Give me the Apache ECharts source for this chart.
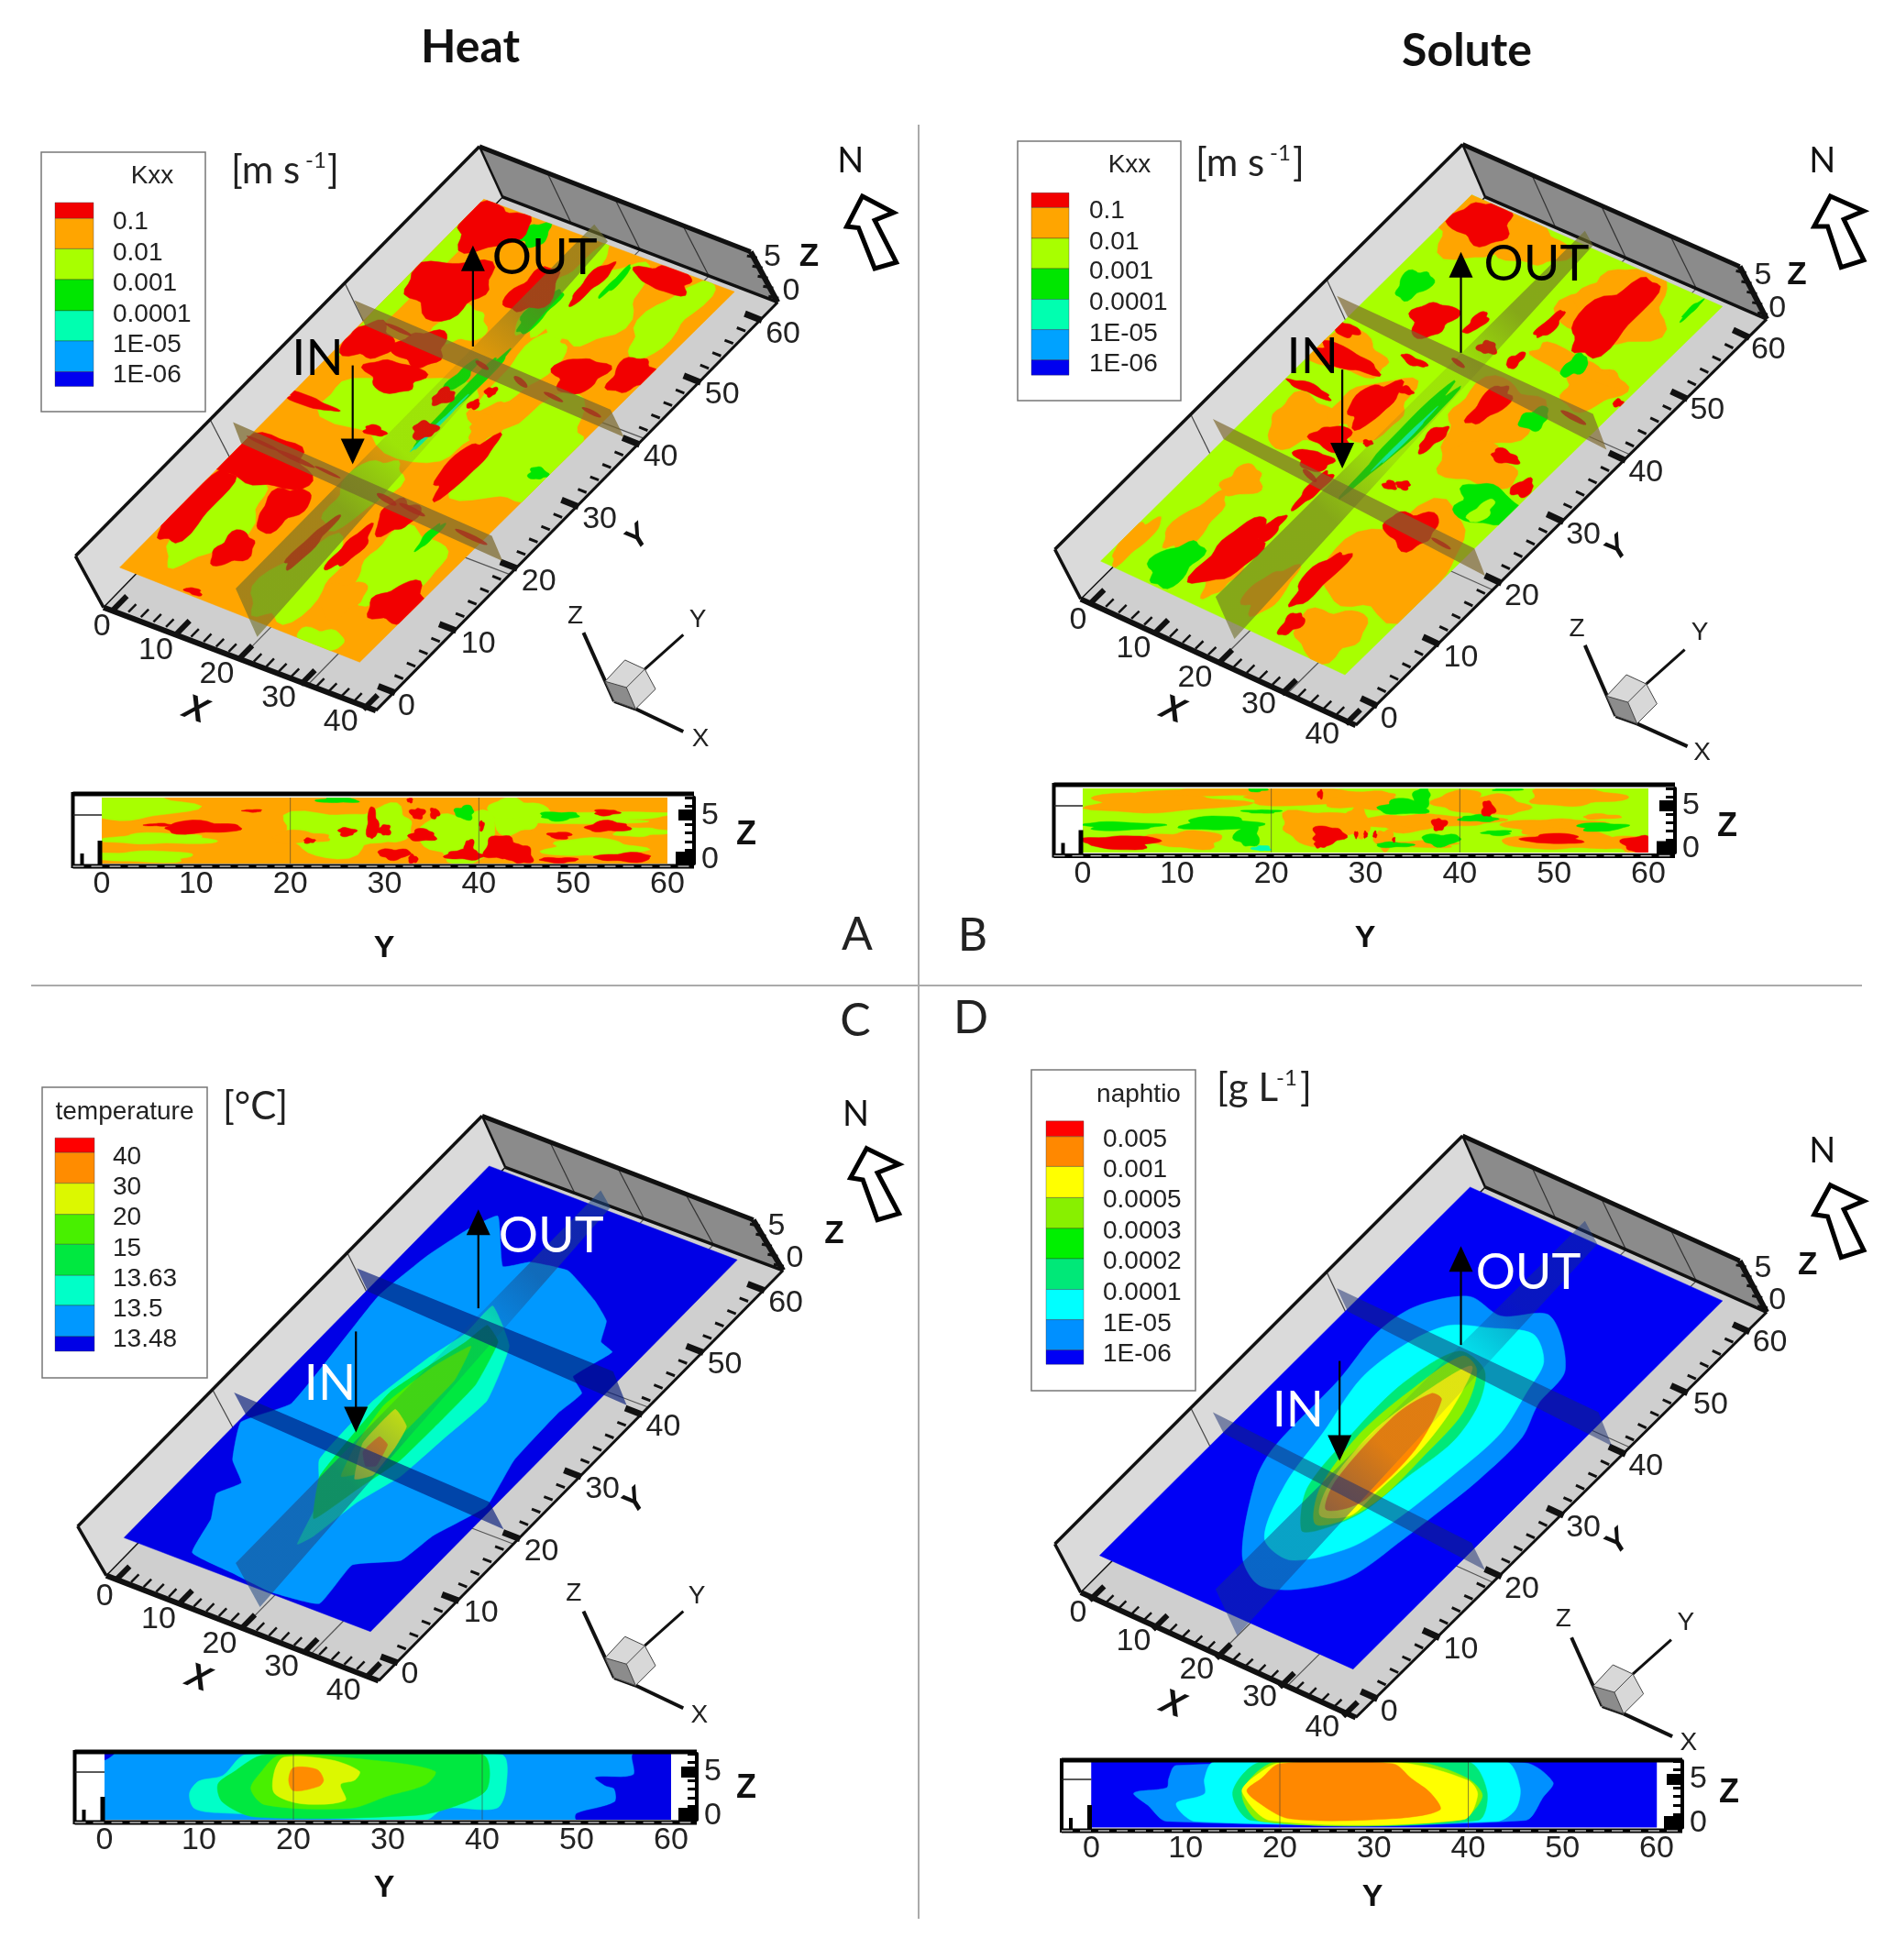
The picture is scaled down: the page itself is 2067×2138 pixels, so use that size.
<!DOCTYPE html>
<html><head><meta charset="utf-8"><title>Heat and solute tracer plumes</title>
<style>html,body{margin:0;padding:0;background:#fff}#c{width:2067px;height:2138px}</style>
<script src="https://cdn.jsdelivr.net/npm/echarts@6/dist/echarts.min.js"></script></head>
<body><div id="c"></div>
<script>
// ---------- DATA: levels, tick labels ----------
const kxxLabels=['0.1','0.01','0.001','0.0001','1E-05','1E-06'];
const kxxColors=['#f20000','#ffa500','#a8ff00','#00e600','#00ffb0','#00a2ff','#0000f0'];
const tempLabels=['40','30','20','15','13.63','13.5','13.48'];
const tempColors=['#ff0000','#ff8c00','#dcf800','#48f000','#00e840','#00ffc8','#0098ff','#0000e6'];
const naphLabels=['0.005','0.001','0.0005','0.0003','0.0002','0.0001','1E-05','1E-06'];
const naphColors=['#ff0000','#ff8800','#ffff00','#88f000','#00f000','#00e878','#00ffff','#0090ff','#0000f5'];
const xTickLabels=['0','10','20','30','40'];
const yTickLabels=['0','10','20','30','40','50','60'];
const zTickLabels=['0','5'];
const stripYTicks=[0,10,20,30,40,50,60];
const stripGuides=[20,40];

// Plate regions. Blob rows: [level, X, Y, radiusX, radiusY]; contour rows: [level, [[X,Y],...]]
const plateA=[[1,[[0,0],[40,0],[40,60],[0,60]]],
[2,6.5,10,3.5,8],[2,23,6.5,4,7],[2,32.7,.6,3,2],[2,33,13,4.5,6],[2,35,31.7,6,9],[2,16,31,10,6],[2,1,48,2,12],[2,24.8,42,2.5,7],[2,26.2,52.3,4,7],[2,35.5,53.8,2.5,7],[2,20,20,3,6],[2,12,44,3,3],[2,20,52,2,8],
[1,30.2,6.5,2.5,3],[1,27,33,2,2],[1,8,36,3,2],
[3,10,58,1.5,2],[3,33.2,17.9,.5,2.5],[3,38.5,30,1,1],[3,18,38,.7,3],[3,19.5,49,1,4],[3,20.5,36,.6,9],[3,25,56,.4,3],[4,21,31,.25,5],
[0,6,48,4,5],[0,4,57,3.5,4],[0,3,38,2.5,3],[0,10,39.5,2.5,3],[0,10,35,3,2.5],[0,2.9,28.2,3,.8],[0,5,19,5,4],[0,1.5,10.5,2.2,6.5],[0,12.4,14.4,2,4],[0,11.4,7.4,1.8,3],[0,37.5,8.5,2.5,3.5],[0,28.8,27.5,1.5,5.5],[0,27,18.6,1.8,3],[0,25.3,12.8,1,4],[0,19.9,11.4,.7,5],[0,31.6,43.4,2.5,3],[0,37.8,45.7,2,3],[0,16.5,51.3,2,4],[0,30.4,58.5,3,2],[0,22.3,54.9,.8,4],[0,18.3,34.8,1,1.5],[0,22.8,35.2,.6,.8],[0,23.3,37.5,.6,.8],[0,20,30,1.2,1.5],[0,14.2,27.7,1.2,.8],[0,11.7,.6,1,.5]];
const plateB=[[2,[[0,0],[40,0],[40,60],[0,60]]],
[1,6.8,16.2,2.2,2.5],[1,6.1,9,2,5],[1,1.4,4.1,1.4,4],[1,6.7,25.9,4,4],[1,4,36,5,3],[1,13,31,4,5],[1,4,57,6,5],[1,12,57.4,4.5,3],[1,28.7,54.7,6,6],[1,26,55,2.5,5],[1,34.7,44.4,3.5,3.5],[1,30,46,6,1.5],[1,33,15,7,9],[1,33.5,3.8,4,4],[1,27,36,5,6],[1,31,30,5,3],[1,22,5.4,2,4],[1,15.3,4.3,1.5,3],
[3,36.6,26,3.5,3],[2,36.6,25,1,2],[3,8.5,3.5,2,4],[3,3.6,47,1.5,2.5],[3,30.5,46,1,2],[3,32,38,1.2,2],[3,37,58,.3,2],[3,19.5,30,.9,10],[4,20,29,.3,5],
[0,4.3,57.5,3,3.5],[0,9.5,44,2,3],[0,14.8,45.9,.7,2],[0,23.1,49.3,.7,2.5],[0,29,53.2,2.5,7],[0,1.1,38.5,1.5,1],[0,4.4,35.2,3.5,1.5],[0,3.8,30,2.5,.7],[0,12.4,31.6,1.8,4],[0,12.2,38.4,1.5,.6],[0,14.6,34.7,.8,.6],[0,11.9,25.6,2,2],[0,12.2,22.2,2,1.5],[0,25.5,37.4,1.3,3.5],[0,18.8,43.6,1,1],[0,23.3,43.6,.6,1.5],[0,23,30.7,.8,2.5],[0,33,32.3,1.5,1],[0,38.5,29.7,1,1.5],[0,30.8,19.5,2.5,3],[0,15.5,19,.7,3.5],[0,13.7,7.7,2,6],[0,15.2,12.2,.8,2.5],[0,26.1,9.4,1.2,5],[0,28.3,2.9,.9,2],[0,23.5,23.3,.7,.7],[0,25,24,.7,.7],[0,16.3,26.9,.5,.5],[0,39.5,44,.6,.6]];
const plateC=[[7,[[0,0],[40,0],[40,60],[0,60]]],
[6,[[9.8,1.3],[8.1,6.1],[5.8,9.3],[7.5,11.7],[3.8,14],[.4,18.8],[4.2,23.3],[2,39.8],[3.1,46.7],[4.7,51.3],[6.8,54.5],[13.2,48.8],[15.9,50.5],[21.4,51.2],[27.9,48.9],[31.7,47],[33.5,44.3],[36,43.6],[34.2,39],[37.2,37.4],[36.7,34],[37,26.5],[39.1,19.9],[36.2,14],[35.3,9.7],[30.1,7],[30.7,1],[23.6,.2],[17,.7]]],
[5,[[21.2,7],[18.5,13.4],[14,17.9],[13.5,27.2],[15,34.6],[16.6,39.3],[16.6,43.7],[23.2,39.7],[26.9,32.3],[26.2,25.9],[25.5,19.6],[23.4,14.6],[22.2,8.7]]],
[4,[[20.2,10.7],[16,15.9],[15.2,21],[14.5,29],[17.6,38.3],[18.2,41.2],[21.4,39.7],[23.7,33.7],[23.8,28.4],[23.6,21.5],[21.9,16.1]]],
[3,[[18.5,16.9],[16.5,21.5],[15.3,27.2],[16.6,33.8],[18.7,38],[20.7,33.3],[20.8,27.9],[20.8,22.5],[20.6,18.4]]],
[2,[[20.4,17.2],[17.2,21.8],[17.1,27.2],[20.4,25.7],[21.5,22.7],[22.1,18.5]]],
[1,[[18.2,20.8],[18.4,23.3],[20.3,22.7],[21.4,19.7],[20.2,19.2]]]];
const plateD=[[8,[[0,0],[40,0],[40,60],[0,60]]],
[7,[[15.5,7.2],[8.7,16.4],[7.1,21.1],[6.8,31.9],[5.8,39],[7.1,43.8],[11.9,47.7],[17.5,47.1],[22.8,49.6],[30.4,44.3],[31.2,39.1],[33.1,34.5],[33,27.6],[32.1,21.7],[31.3,17.2],[29.6,10.2],[25.1,6.1],[20.5,4.7]]],
[6,[[16.1,10.2],[12.4,17.4],[10.9,25],[9.1,33],[10.1,38.9],[12.7,43.3],[17.6,45.2],[23,46.7],[27.2,44.1],[28.6,40],[30.3,33.9],[29.7,26.8],[28.3,18.6],[26.4,13.5],[21.3,9.1]]],
[5,[[19.2,13],[15.2,18.1],[14.1,27.1],[14.2,34.7],[16.7,41],[21.6,40.2],[24.7,36.1],[26,30.6],[24.8,23.8],[23.8,17.9],[21,13.8]]],
[3,[[20,14.4],[16.6,18.7],[15,26.9],[15.9,34.8],[17.7,40.7],[20.8,39.8],[23.9,34.4],[24.4,27.7],[24.4,20.9],[22.8,16.4]]],
[2,[[19.6,15.6],[17.3,19.3],[16.2,27.4],[17.4,34.2],[19.8,40],[22.3,34.3],[23.4,28],[23.2,20.3],[22.9,17.1]]],
[1,[[19.5,16.6],[17.5,20.4],[16.8,30.4],[18.4,34.9],[20.2,34.7],[22.8,27.7],[22.8,19.8],[21.6,17.6]]]];

// Strip regions (Y, Z)
const stripA=[[1,[[0,-.5],[60,-.5],[60,7],[0,7]]],
[2,3,6,6,1.5],[2,6,2.3,6,.6],[2,4,.3,6,.6],[2,25,3,6,2.5],[1,21,2.5,3,.7],[2,30,4,3,2],[2,38,2.5,4,3],[2,44,5,3,2],[2,52,1.3,5,1],[2,50,4.5,8,.5],[2,55,5,6,.4],[2,57,3.1,3,.5],
[3,25,6.7,2.2,.3],[3,38.5,5.3,1,.8],[3,48.5,4.9,2,.5],
[0,10.5,3.6,4,.7],[0,6,3.9,1.5,.15],[0,16,5.5,1,.15],[0,26,3.1,.9,.5],[0,28.7,4,.6,1.8],[0,30,3.3,.7,.6],[0,33.5,5.2,.8,.6],[0,35.3,5.2,.5,.6],[0,34,2.7,1.4,.7],[0,32.7,6.7,.3,.3],[0,31,.6,1.7,.6],[0,33,0,.5,.5],[0,38.5,.5,2,.6],[0,39,1.3,.5,1],[0,40.3,3.8,.25,.6],[0,42.5,1.3,2,1.3],[0,44.3,.5,1.5,1],[0,48.6,2.7,1.2,.4],[0,53.5,5.3,1.3,.35],[0,53.7,3.7,2.3,.6],[0,55.5,.2,3,.5],[0,48.5,-.1,2,.3],[0,22,2.1,.6,.3]];
const stripB=[[2,[[0,-.5],[60,-.5],[60,7],[0,7]]],
[1,8,5.3,8,1.1],[1,15,6.6,8,.5],[1,11,1,4,1],[1,25,2.5,4,2],[1,25,6,8,1],[1,30,5.5,4,1],[1,34,3,4,1],[1,38,3.2,6,.7],[1,44,5,3,1.2],[1,40,5.5,2.5,1.3],[1,50,2.5,5,1],[1,52,6,5,1],[1,51,1,6,1.2],[1,36,.5,4,.4],[1,59,.5,3,1],[1,55,3.7,2,.3],[1,29,3,1.5,1.8],[1,32,1,1,1.2],
[3,4,2.6,4,.5],[3,14.5,2.9,4,.8],[3,17.5,1.5,1.3,1.3],[3,19,4.3,2,.2],[3,18.5,6.9,1,.3],[3,34,4.8,2.5,.9],[3,36,6,.9,1.2],[3,38,1,2,.7],[3,33,.4,2,.3],[3,42,3.5,2,.4],[3,44,1.8,1.5,.3],[3,55,2.5,2.5,.5],[3,45,6.9,1.5,.2],[4,19,0,1,.3],
[0,4,.7,4,.8],[0,26,1.5,1.7,1.1],[0,25.2,.6,.6,.6],[0,25.2,6.3,.3,.5],[0,29,1.6,.2,.4],[0,30,1.6,.2,.4],[0,31,1.6,.2,.4],[0,33,1,.15,.3],[0,37.8,2.8,.8,.7],[0,43,4.6,.7,.9],[0,50,1.1,3,.6],[0,59,.5,1.7,1]];
const stripC=[[6,[[0,-.5],[60,-.5],[60,7],[0,7]]],
[7,[[56,7],[56,4.6],[52,4.3],[53,3.4],[54,3],[54,1.5],[50,.2],[50,-.5],[60,-.5],[60,7]]],[7,[[0,7],[1,7],[0,6.3]]],
[5,[[15,6.9],[42,6.9],[42.5,3],[41.5,.8],[36,.8],[34,-.5],[12,0.3],[9.5,.8],[9,2.5],[10,3.9],[12.5,4.5]]],
[4,[[17,6.9],[40,6.9],[40.5,3],[37,1],[33,0],[16,-.2],[12.5,1.5],[12,3.5],[13.5,4.8]]],
[3,[[18.5,6.8],[29,6.2],[35,5],[34,3.5],[30,2.2],[26,.8],[17,1.2],[15.5,3],[16.5,4.8]]],
[2,[[19,6.6],[24,6.3],[27,5],[26.5,4],[25,3.5],[25.5,1.7],[21,1.3],[18,2.5],[18,5]]],
[1,[[20,5.4],[22.5,5.2],[23.2,4],[22.7,3.3],[20,2.8],[19.5,4]]]];
const stripD=[[8,[[0,-.5],[60,-.5],[60,7],[0,7]]],
[7,[[9,6.5],[46,6.8],[49,4.6],[48,3],[46,.3],[8,.2],[6,2],[4.5,3.4],[8,4],[8.2,5]]],
[6,[[13,6.9],[44,6.9],[45.5,4],[45,1.5],[43,.2],[11,.2],[9,2.2],[12,3.3],[12,5]]],
[5,[[18,6.9],[40,6.9],[42,3.5],[41,.3],[17,.3],[15,3.5]]],
[3,[[19.5,6.9],[35,6.8],[40,5],[41.5,3],[39,.3],[18,.2],[16,3.5]]],
[2,[[20,6.8],[33,6.8],[40,4.8],[41,3.2],[39.5,.4],[19,.3],[16,3.5],[17,5]]],
[1,[[20,6.7],[32,6.7],[34,5],[36,3.4],[37,1.5],[32,.5],[21,.5],[17.5,2.5],[16.5,3.7],[18,5]]]];
// Cross-section spots [wall, s(0-40), t(0-1), rs, rt]
const wallSpotsA=[[0,4,.55,2.5,.12],[0,9,.5,3,.15],[0,14,.55,2,.1],[0,23,.5,1.5,.2],[0,27,.55,2,.15],[0,36,.5,2.5,.15],[1,6,.5,2,.12],[1,19,.5,1,.15],[1,25,.5,1,.2],[1,30,.45,1.5,.12],[1,36,.5,1.5,.12]];
const wallSpotsB=[[0,14,.5,1,.25],[0,34,.45,1.5,.12],[1,18,.5,1,.15],[1,36,.55,2,.12]];

// ---------- LAYOUT ----------
const SX=1.70,SY=2.178;
const panels=[
{ox:60,oy:130,title:'Kxx',plate:plateA,stripRows:stripA,colors:kxxColors,labels:kxxLabels,spots:wallSpotsA,smooth:0,
 Tb:[787,65],LT:[38,1038],LF:[90,1160],FF:[595,1405],RF:[1340,435],RT:[1290,315],BF:[830,185],
 L:[120,1065],B:[565,1290],T:[795,190],R:[1260,410],tx0:[120,1150],tx40:[585,1385],ty0:[615,1355],ty60:[1295,470],
 xl:[[87,1205],[187,1262],[300,1320],[415,1375],[530,1432]],yl:[[652,1395],[785,1248],[897,1100],[1010,950],[1123,803],[1237,655],[1350,510]],zl:[[1365,408],[1330,328]],
 xt:[260,1405],yt:[1080,995],zt:[1398,328],
 w:[[[330,720],[345,770],[830,1050],[810,990]],[[555,430],[575,490],[1055,755],[1030,690]],[[335,1115],[375,1230],[1025,290],[1000,250]]],
 wc:'rgba(125,105,45,.72)',lc:[110,110,40,.62],ink:'#000',inT:[487,570],inA:[[552,585],[552,820]],outT:[908,330],outA:[[775,540],[775,300]],
 tZ:[980,1220],tY:[1165,1225],tX:[1165,1455],c:[1070,1335],lZ:[965,1180],lY:[1192,1190],lX:[1197,1472],
 n:[1475,100],na:[[1497,183],[1555,222],[1520,240],[1560,340],[1520,355],[1490,258],[1468,255]],
 lg:{x:45,y:166,w:179,h:283,sx:60,sw:42,b:[198,236,308,381,455,527,600,635],ly:[245,318,390,465,537,608],tx:166,ty:192,lx:123,ox:60,oy:130},
 strip:{left:79.5,right:757,top:866,bottom:945,x0:111,x60:728,pt:870,pb:942,yT:[419,1035],zT:[814,911]},strip5:889},
{ox:1120,oy:130,title:'Kxx',plate:plateB,stripRows:stripB,colors:kxxColors,labels:kxxLabels,spots:wallSpotsB,smooth:0,
 Tb:[808,60],LT:[52,1022],LF:[100,1140],FF:[610,1440],RF:[1372,475],RT:[1322,350],BF:[850,185],
 L:[137,1050],B:[590,1320],T:[825,180],R:[1290,445],tx0:[130,1135],tx40:[605,1420],ty0:[635,1385],ty60:[1325,510],
 xl:[[95,1190],[198,1258],[312,1328],[430,1392],[548,1462]],yl:[[672,1425],[805,1280],[918,1135],[1032,988],[1148,840],[1262,692],[1375,548]],zl:[[1392,450],[1365,372]],
 xt:[270,1405],yt:[1095,1022],zt:[1428,372],
 w:[[[345,712],[365,760],[850,1085],[830,1020]],[[575,420],[595,470],[1075,785],[1050,700]],[[350,1135],[385,1235],[1050,300],[1035,265]]],
 wc:'rgba(125,105,45,.68)',lc:[110,110,40,.6],ink:'#000',inT:[530,565],inA:[[585,595],[585,830]],outT:[945,345],outA:[[805,555],[805,315]],
 tZ:[1035,1250],tY:[1220,1260],tX:[1225,1490],c:[1125,1370],lZ:[1020,1212],lY:[1248,1220],lX:[1252,1505],
 n:[1475,100],na:[[1490,183],[1552,218],[1515,238],[1552,335],[1510,352],[1485,255],[1460,255]],
 lg:{x:1110,y:154,w:178,h:283,sx:1125,sw:41,b:[175,210,283,355,428,500,572,608],ly:[218,292,363,437,510,582],tx:1232,ty:180,lx:1188,ox:1120,oy:130},
 strip:{left:1149.5,right:1827,top:856,bottom:933.5,x0:1181,x60:1798,pt:860,pb:930,yT:[1489,1024],zT:[1884,902]},strip5:879},
{ox:60,oy:1170,title:'temperature',plate:plateC,stripRows:stripC,colors:tempColors,labels:tempLabels,spots:[],smooth:.12,
 Tb:[792,103],LT:[42,1078],LF:[95,1195],FF:[600,1445],RF:[1350,470],RT:[1295,350],BF:[835,225],
 L:[128,1105],B:[585,1328],T:[805,222],R:[1265,445],tx0:[125,1190],tx40:[590,1420],ty0:[620,1395],ty60:[1300,510],
 xl:[[92,1245],[192,1300],[305,1358],[420,1412],[535,1470]],yl:[[658,1430],[790,1285],[902,1138],[1015,990],[1128,842],[1242,695],[1355,548]],zl:[[1372,442],[1338,365]],
 xt:[265,1440],yt:[1075,1020],zt:[1445,385],
 w:[[[332,760],[355,815],[832,1085],[805,1020]],[[560,465],[580,520],[1060,790],[1035,710]],[[335,1165],[380,1270],[1030,320],[1012,280]]],
 wc:'rgba(0,22,120,.64)',lc:[30,70,130,.55],ink:'#fff',inT:[510,740],inA:[[558,615],[558,855]],outT:[920,390],outA:[[785,560],[785,325]],
 tZ:[980,1280],tY:[1165,1280],tX:[1165,1510],c:[1070,1390],lZ:[962,1237],lY:[1190,1245],lX:[1195,1528],
 n:[1485,100],na:[[1505,180],[1565,218],[1525,238],[1565,335],[1525,350],[1498,255],[1475,250]],
 lg:{x:46,y:1186,w:180,h:317,sx:60,sw:43,b:[155,190,263,337,408,482,553,627,662],ly:[200,272,345,418,490,563,635],tx:136,ty:1213,lx:123,ox:60,oy:1170},
 strip:{left:81.5,right:760,top:1911,bottom:1988,x0:114,x60:732,pt:1913,pb:1985,yT:[419,2060],zT:[814,1951]},strip5:1933},
{ox:1120,oy:1210,title:'naphtio',plate:plateD,stripRows:stripD,colors:naphColors,labels:naphLabels,spots:[],smooth:.3,
 Tb:[808,63],LT:[52,1033],LF:[100,1148],FF:[610,1445],RF:[1372,482],RT:[1322,360],BF:[850,185],
 L:[135,1060],B:[605,1330],T:[822,185],R:[1290,455],tx0:[130,1150],tx40:[600,1425],ty0:[635,1392],ty60:[1325,520],
 xl:[[95,1197],[198,1265],[315,1333],[432,1398],[548,1470]],yl:[[672,1432],[805,1285],[918,1140],[1032,995],[1148,848],[1268,703],[1378,555]],zl:[[1392,455],[1365,378]],
 xt:[270,1415],yt:[1095,1030],zt:[1448,370],
 w:[[[345,720],[365,770],[850,1095],[825,1030]],[[575,425],[595,480],[1085,800],[1060,720]],[[350,1140],[390,1250],[1058,320],[1035,265]]],
 wc:'rgba(20,40,110,.5)',lc:[20,50,130,.45],ink:'#fff',inT:[503,715],inA:[[580,598],[580,835]],outT:[930,390],outA:[[805,560],[805,325]],
 tZ:[1010,1255],tY:[1195,1260],tX:[1197,1490],c:[1100,1370],lZ:[995,1212],lY:[1222,1220],lX:[1227,1505],
 n:[1475,100],na:[[1490,180],[1552,218],[1515,238],[1552,335],[1510,352],[1485,255],[1460,250]],
 lg:{x:1125,y:1167,w:179,h:350,sx:1141,sw:41,b:[28,65,136,210,283,355,428,500,572,606],ly:[72,145,217,290,362,437,510,582],tx:1242,ty:1194,lx:1203,ox:1120,oy:1210},
 strip:{left:1158,right:1835,top:1920,bottom:1997,x0:1190.5,x60:1807,pt:1921,pb:1993.5,yT:[1497,2070],zT:[1886,1956]},strip5:1941}
];
const TICK='"Liberation Sans",Arial,sans-serif', CAL='Lato,"Open Sans",sans-serif';
const AXF=34;
const G=[];
const txt=(x,y,t,font,fill,extra)=>G.push(Object.assign({type:'text',x,y,z:20,style:{text:t,font,fill:fill||'#222',textAlign:'center',textVerticalAlign:'middle',verticalAlign:'middle'}},extra||{}));
const poly=(pts,fill,stroke,lw,z)=>G.push({type:'polygon',z:z||1,shape:{points:pts},style:{fill:fill||'none',stroke:stroke||null,lineWidth:lw||0}});
const line=(a,b,c,w,z,dash)=>G.push({type:'line',z:z||1,shape:{x1:a[0],y1:a[1],x2:b[0],y2:b[1]},style:{stroke:c,lineWidth:w,lineDash:dash||null}});
const lerp=(a,b,f)=>[a[0]+(b[0]-a[0])*f,a[1]+(b[1]-a[1])*f];
const unit=(a,b)=>{const d=[b[0]-a[0],b[1]-a[1]],n=Math.hypot(d[0],d[1]);return [d[0]/n,d[1]/n];};

panels.forEach(p=>{
 const Z=q=>[p.ox+q[0]/SX,p.oy+q[1]/SY];
 const [Tb,LT,LF,FF,RF,RT,BF]=[p.Tb,p.LT,p.LF,p.FF,p.RF,p.RT,p.BF].map(Z);
 // box
 poly([LF,LT,Tb,BF],'#dadada');
 poly([BF,Tb,RT,RF],'#8b8b8b');
 poly([LF,BF,RF,FF],'#cfcfcf');
 [1/3,2/3].forEach(f=>{line(lerp(LF,BF,f),lerp(LT,Tb,f),'#444',1.2,2);line(lerp(LF,BF,f),lerp(FF,RF,f),'#555',1.2,2);});
 [.25,.5,.75].forEach(f=>line(lerp(BF,RF,f),lerp(Tb,RT,f),'#333',1.2,2));
 [.5,.75].forEach(f=>line(lerp(LF,FF,f),lerp(BF,RF,f),'#555',1.2,2));
 [[LF,LT,3.5],[LT,Tb,3.5],[Tb,RT,5],[RT,RF,6],[LF,FF,6],[FF,RF,3],[Tb,BF,2.5],[BF,RF,3.5],[LF,BF,1.5]].forEach(e=>line(e[0],e[1],'#111',e[2],3));
 // ticks
 const tx0=Z(p.tx0),tx40=Z(p.tx40),ty0=Z(p.ty0),ty60=Z(p.ty60);
 const dx=unit(ty0,ty60), dy=unit(tx40,tx0);
 for(let v=0;v<=40;v+=2){const m=v%10===0,b=lerp(tx0,tx40,v/40),a=m?11:6;line([b[0]-dx[0]*a,b[1]-dx[1]*a],[b[0]+dx[0]*a,b[1]+dx[1]*a],'#111',m?6:2.5,3);}
 for(let v=0;v<=60;v+=2){const m=v%10===0,b=lerp(ty0,ty60,v/60),a=m?10:5;line([b[0]-dy[0]*a,b[1]-dy[1]*a],[b[0]+dy[0]*a,b[1]+dy[1]*a],'#111',m?7:3,3);}
 for(let f=.1;f<1;f+=.2){const b=lerp(RF,RT,f);line([b[0]-7,b[1]-1],[b[0]+4,b[1]+1],'#111',3,3);}
 // tick labels
 p.xl.forEach((q,i)=>{const c=Z(q);txt(c[0],c[1],xTickLabels[i],AXF+'px '+TICK);});
 p.yl.forEach((q,i)=>{const c=Z(q);txt(c[0],c[1],yTickLabels[i],AXF+'px '+TICK);});
 p.zl.forEach((q,i)=>{const c=Z(q);txt(c[0],c[1],zTickLabels[i],AXF+'px '+TICK);});
 let c=Z(p.xt);txt(c[0],c[1],'X','italic bold 38px '+TICK,'#111',{rotation:-.35});
 c=Z(p.yt);txt(c[0],c[1],'Y','italic bold 34px '+TICK,'#111',{rotation:.75});
 c=Z(p.zt);txt(c[0],c[1],'Z','bold 35px '+TICK,'#111');
 // cross sections
 p.w.forEach((q,i)=>{
  const P=q.map(Z);
  if(i===2){
   const [r,gg,b,a]=p.lc,col=x=>`rgba(${r},${gg},${b},${x})`;
   poly(P,{type:'linear',x:0,y:1,x2:1,y2:0,colorStops:[{offset:0,color:col(a)},{offset:.3,color:col(a)},{offset:.45,color:col(a*.3)},{offset:.66,color:col(a*.3)},{offset:.8,color:col(a)},{offset:1,color:col(a)}]},null,0,6);
  } else poly(P,p.wc,null,0,6);
  p.spots.filter(s=>s[0]===i).forEach(s=>{
   const pts=[];for(let a=0;a<16;a++){const th=a/16*2*Math.PI,u=(s[1]+s[3]*Math.cos(th))/40,t=s[2]+s[4]*Math.sin(th);
    const top=lerp(P[0],P[3],u),bot=lerp(P[1],P[2],u);pts.push(lerp(bot,top,t));}
   poly(pts,'rgba(165,45,30,.8)',null,0,7);});
 });
 // IN / OUT
 const head=(a,b)=>{const A=Z(a),B=Z(b),d=unit(A,B),n=[-d[1],d[0]];line(A,[B[0]-d[0]*10,B[1]-d[1]*10],'#000',2.2,15);
  poly([B,[B[0]-d[0]*28+n[0]*13,B[1]-d[1]*28+n[1]*13],[B[0]-d[0]*28-n[0]*13,B[1]-d[1]*28-n[1]*13]],'#000',null,0,15);};
 head(p.inA[0],p.inA[1]);head(p.outA[0],p.outA[1]);
 c=Z(p.inT);txt(c[0],c[1],'IN','54px '+CAL,p.ink);
 c=Z(p.outT);txt(c[0],c[1],'OUT','54px '+CAL,p.ink);
 // north arrow
 c=Z(p.n);txt(c[0],c[1],'N','38px '+CAL,'#111');
 poly(p.na.map(Z),'#fff','#000',5,10);
 // triad
 const CC=Z(p.c),o=(dx,dy)=>[CC[0]+dx,CC[1]+dy];
 line(Z(p.tZ),o(-19.4,22),'#111',4,10);line(Z(p.tX),o(3.9,30.3),'#111',4,10);line(o(-19.4,22),o(3.9,30.3),'#111',4,10);line(Z(p.tY),o(13.9,-13),'#111',3,10);
 poly([o(-7.7,-23),o(13.9,-13),o(25.6,8.7),o(3.9,30.3),o(-19.4,22),o(-29.4,.3)],'#d8d8d8','#444',1,11);
 poly([o(-29.4,.3),o(-6.1,7),o(3.9,30.3),o(-19.4,22)],'#8c8c8c','#444',1,11);
 line(o(-6.1,7),o(13.9,-13),'#444',1,12);
 [[p.lZ,'Z'],[p.lY,'Y'],[p.lX,'X']].forEach(l=>{const a=Z(l[0]);txt(a[0],a[1],l[1],'28px '+TICK,'#222');});
 // legend
 const g=p.lg;
 G.push({type:'rect',z:8,shape:{x:g.x,y:g.y,width:g.w,height:g.h},style:{fill:'#fff',stroke:'#777',lineWidth:1.5}});
 for(let i=0;i<p.colors.length;i++){const y0=g.oy+g.b[i]/SY,y1=g.oy+g.b[i+1]/SY;
  G.push({type:'rect',z:9,shape:{x:g.sx,y:y0,width:g.sw,height:y1-y0},style:{fill:p.colors[i],stroke:'rgba(40,40,40,.5)',lineWidth:.7}});}
 p.labels.forEach((t,i)=>txt(g.lx,g.oy+g.ly[i]/SY,t,'28px '+TICK,'#222',{style:{text:t,font:'28px '+TICK,fill:'#222',textAlign:'left',textVerticalAlign:'middle',verticalAlign:'middle'}}));
 txt(g.tx,g.ty,p.title,'28px '+TICK);
 // strip frame
 const s=p.strip;
 G.push({type:'rect',z:3,shape:{x:s.left,y:s.top,width:s.x0-s.left,height:s.bottom-s.top},style:{fill:'#fff'}});
 line([s.left,s.top],[s.right,s.top],'#000',5,6);line([s.left,s.bottom],[s.right,s.bottom],'#000',5,6);
 line([s.left,s.bottom],[s.right,s.bottom],'#bbb',1.5,7,[12,8]);
 line([s.left,s.top-2],[s.left,s.bottom+2],'#000',4,6);
 line([s.left,p.strip5],[s.x0,p.strip5],'#222',1.5,6);
 line([s.left+10,s.bottom-14],[s.left+10,s.bottom],'#000',4,6);line([s.x0-2,s.bottom-28],[s.x0-2,s.bottom],'#000',5,6);
 G.push({type:'rect',z:6,shape:{x:s.right-17,y:p.strip5-6,width:17,height:12},style:{fill:'#000'}});
 G.push({type:'rect',z:6,shape:{x:s.right-20,y:s.bottom-16,width:20,height:16},style:{fill:'#000'}});
 txt(s.yT[0],s.yT[1],'Y','bold 34px '+TICK,'#111');
 txt(s.zT[0],s.zT[1],'Z','bold 36px '+TICK,'#111');
});
// Headings, units, panel letters, dividers
txt(513,52,'Heat','bold 50px '+CAL,'#111');txt(1600,56,'Solute','bold 50px '+CAL,'#111');
[['A',935,1020],['B',1061,1021],['C',933,1114],['D',1059,1111]].forEach(a=>txt(a[1],a[2],a[0],'50px '+CAL,'#222'));
line([1002,136],[1002,2093],'#aaa',2,1);line([34,1075],[2031,1075],'#aaa',2,1);
const left=(x,y,t,f)=>G.push({type:'text',x,y,z:20,style:{text:t,font:f,fill:'#222',textAlign:'left',textVerticalAlign:'middle',verticalAlign:'middle'}});
const U='42px '+CAL,S='24px '+CAL;
left(252,186,'[m s',U);left(333,175,'-1',S);left(357,186,']',U);
left(1304,178,'[m s',U);left(1385,167,'-1',S);left(1410,178,']',U);
left(243,1207,'[°C]',U);
left(1327,1187,'[g L',U);left(1392,1176,'-1',S);left(1418,1187,']',U);

// ---------- CHART ----------
// Outline of a region: contour rows as read; blob rows traced with an irregular edge so they read as contour patches.
const outline=(r,k,xr,yr,fx,fy)=>{ if(r.length===2) return r[1];
 const pts=[];for(let a=0;a<36;a++){const th=a/36*2*Math.PI,w=1+.16*Math.sin(3*th+k*1.7)+.09*Math.sin(5*th+k*2.3)+.05*Math.sin(7*th+k);
  pts.push([Math.min(xr[1],Math.max(xr[0],r[1]+fx*r[3]*w*Math.cos(th))),Math.min(yr[1],Math.max(yr[0],r[2]+fy*r[4]*w*Math.sin(th)))]);}
 return pts;};
const grids=[],xAxes=[],yAxes=[],series=[];
const hide={show:false,axisLine:{show:false},axisTick:{show:false},axisLabel:{show:false},splitLine:{show:false}};
panels.forEach((p,i)=>{
 const Z=q=>[p.ox+q[0]/SX,p.oy+q[1]/SY];
 const L=Z(p.L),B=Z(p.B),T=Z(p.T),R=Z(p.R);
 grids.push({left:L[0],top:T[1],width:R[0]-L[0],height:B[1]-T[1]});
 xAxes.push(Object.assign({type:'value',gridIndex:grids.length-1,min:0,max:40},hide));
 yAxes.push(Object.assign({type:'value',gridIndex:grids.length-1,min:0,max:60},hide));
 series.push({type:'custom',name:'plate'+i,xAxisIndex:grids.length-1,yAxisIndex:grids.length-1,z:4,silent:true,animation:false,
  data:p.plate.map((r,k)=>[k,0]),
  renderItem:(params,api)=>{
   const k=params.dataIndex,r=p.plate[k],sys=params.coordSys;
   const map=q=>{const c=api.coord(q),u=(c[0]-sys.x)/sys.width,v=1-(c[1]-sys.y)/sys.height;
    return [L[0]+u*(B[0]-L[0])+v*(T[0]-L[0])+u*v*(R[0]-B[0]-T[0]+L[0]),L[1]+u*(B[1]-L[1])+v*(T[1]-L[1])+u*v*(R[1]-B[1]-T[1]+L[1])];};
   const col=p.colors[r[0]];
   const fx=r[0]===0||r[0]===3?1.35:1.1, fy=r[0]===0||r[0]===3?.85:.9;
   return {type:'polygon',shape:{points:outline(r,k,[0,40],[0,60],fx,fy).map(map),smooth:k&&r.length===2?p.smooth:0},style:{fill:col,stroke:col,lineWidth:.5}};
  }});
 const s=p.strip;
 grids.push({left:s.x0,top:s.pt,width:s.x60-s.x0,height:s.pb-s.pt});
 const gi=grids.length-1;
 xAxes.push({type:'value',gridIndex:gi,min:0,max:60,interval:10,axisLine:{show:false},axisTick:{show:false},splitLine:{show:false},
  axisLabel:{color:'#222',fontFamily:TICK,fontSize:AXF,margin:s.bottom-s.pb+3,customValues:stripYTicks,formatter:v=>String(v)}});
 yAxes.push({type:'value',gridIndex:gi,position:'right',offset:s.right-s.x60,min:-0.5,max:7,interval:.5,splitLine:{show:false},
  axisLine:{show:true,onZero:false,lineStyle:{color:'#000',width:4}},
  axisTick:{show:true,inside:true,length:10,customValues:[0,1,2,3,4,5,6,7],lineStyle:{color:'#000',width:3}},
  axisLabel:{color:'#222',fontFamily:TICK,fontSize:AXF,margin:8,customValues:[0,5],formatter:v=>String(v)}});
 series.push({type:'custom',name:'strip'+i,xAxisIndex:gi,yAxisIndex:gi,z:4,clip:true,silent:true,animation:false,
  data:p.stripRows.map((r,k)=>[k,0]),
  renderItem:(params,api)=>{const k=params.dataIndex,r=p.stripRows[k],col=p.colors[r[0]];
   return {type:'polygon',shape:{points:outline(r,k,[0,60],[-.5,6.95],1,1).map(q=>api.coord(q)),smooth:k&&r.length===2?.3:0},style:{fill:col,stroke:col,lineWidth:.5}};}});
 series.push({type:'custom',name:'guides'+i,xAxisIndex:gi,yAxisIndex:gi,z:5,silent:true,animation:false,
  data:stripGuides.map(v=>[v,0]),
  renderItem:(params,api)=>{const v=api.value(0),a=api.coord([v,-.5]),b=api.coord([v,7]);
   return {type:'line',shape:{x1:a[0],y1:a[1],x2:b[0],y2:b[1]},style:{stroke:'rgba(60,60,60,.6)',lineWidth:1}};}});
});
const chart=echarts.init(document.getElementById('c'),null,{renderer:'canvas'});
chart.setOption({animation:false,backgroundColor:'#fff',grid:grids,xAxis:xAxes,yAxis:yAxes,series,graphic:{elements:G}});
</script></body></html>
